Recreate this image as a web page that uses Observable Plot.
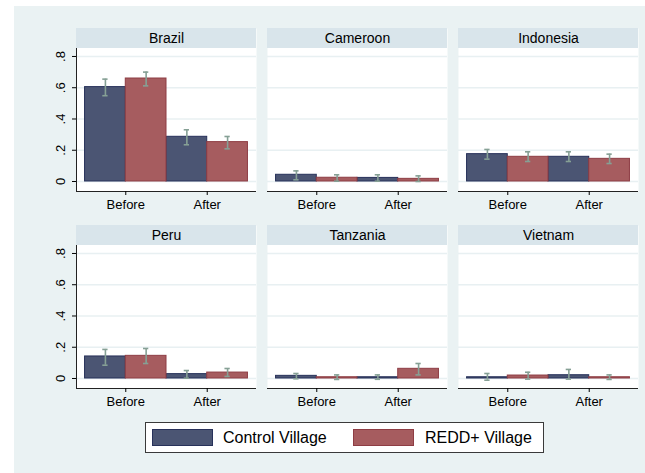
<!DOCTYPE html>
<html>
<head>
<meta charset="utf-8">
<script src="https://cdn.jsdelivr.net/npm/d3@7"></script>
<script src="https://cdn.jsdelivr.net/npm/@observablehq/plot@0.6"></script>
<style>
  html, body { margin: 0; padding: 0; background: #ffffff; }
  #graph { position: relative; width: 645px; height: 473px; overflow: hidden;
           font-family: "Liberation Sans", Arial, Helvetica, sans-serif; }
  #region { position: absolute; left: 14px; top: 6px; width: 631px; height: 467px; background: #eaf2f3; }
  #chart { position: absolute; left: 0; top: 0; }
  #legend { position: absolute; left: 145px; top: 422px; width: 397px; height: 29px;
            border: 1px solid #3a3a3a; background: #ffffff; }
  .swatch { position: absolute; top: 6px; width: 59px; height: 15px; border: 1px solid; }
  .label { position: absolute; top: 0; line-height: 29px; font-size: 16px; color: #000; white-space: nowrap; }
</style>
</head>
<body>
<div id="graph">
  <div id="region"></div>
  <div id="chart"></div>
  <div id="legend"></div>
</div>
<script>
// Share of households, by country, period and village type (mean with 95% CI)
const countries = ["Brazil", "Cameroon", "Indonesia", "Peru", "Tanzania", "Vietnam"];
const periods = ["Before", "After"];
const groups = ["Control Village", "REDD+ Village"];

// [before, after] for each country, in the order of `countries`
const controlMean = [[0.604, 0.286], [0.043, 0.023], [0.175, 0.158], [0.141, 0.028], [0.017, 0.008], [0.008, 0.021]];
const controlLow  = [[0.549, 0.235], [0.011, 0.002], [0.143, 0.128], [0.085, 0.002], [-0.002, -0.005], [-0.011, -0.004]];
const controlHigh = [[0.655, 0.331], [0.068, 0.043], [0.205, 0.190], [0.186, 0.051], [0.032, 0.023], [0.032, 0.058]];

const reddMean = [[0.659, 0.252], [0.024, 0.017], [0.158, 0.145], [0.145, 0.038], [0.008, 0.062], [0.019, 0.008]];
const reddLow  = [[0.612, 0.209], [0.002, 0.000], [0.128, 0.115], [0.096, 0.013], [-0.006, 0.023], [-0.004, -0.006]];
const reddHigh = [[0.700, 0.288], [0.043, 0.036], [0.190, 0.175], [0.192, 0.064], [0.023, 0.096], [0.040, 0.023]];

const yTicks = [0, 0.2, 0.4, 0.6, 0.8];

// styling
const fills   = ["#4b5573", "#a65c5f"];
const strokes = ["#27315a", "#8e3d44"];
const ciColor = "#86a095";
const gridColor = "#e8f0f2";
const stripColor = "#d9e5eb";
const font = '"Liberation Sans", Arial, Helvetica, sans-serif';

const series = [
  {mean: controlMean, lo: controlLow, hi: controlHigh},
  {mean: reddMean, lo: reddLow, hi: reddHigh}
];

// one record per bar: slot 0..3 = (period, group) position along x
const rows = [];
countries.forEach((country, i) => {
  periods.forEach((period, j) => {
    groups.forEach((group, k) => {
      rows.push({
        country, period, group, k,
        col: i % 3, row: Math.floor(i / 3),
        slot: j * groups.length + k,
        mean: series[k].mean[i][j],
        lo: series[k].lo[i][j],
        hi: series[k].hi[i][j]
      });
    });
  });
});

const xMin = -0.21, xMax = 4.21;           // bar area with side padding
const yMin = -0.064, yTop = 0.851;         // plot region
const yMax = 0.979;                        // top of the title strip
const cap = 0.065;                         // half-width of CI caps

const panel = {
  fx: (d, i) => i % 3,
  fy: (d, i) => Math.floor(i / 3)
};

const chart = Plot.plot({
  width: 645,
  height: 410,
  marginTop: 28,
  marginBottom: 22,
  marginLeft: 76,
  marginRight: 7,
  style: {background: "transparent", fontFamily: font, overflow: "visible"},
  fx: {axis: null, domain: [0, 1, 2], paddingInner: 11 / 191, paddingOuter: 0, round: false},
  fy: {axis: null, domain: [0, 1], paddingInner: 34 / 197, paddingOuter: 0, round: false},
  x: {domain: [xMin, xMax]},
  y: {domain: [yMin, yMax]},
  marks: [
    Plot.frame({fill: "white"}),
    Plot.ruleY(yTicks, {stroke: gridColor, strokeWidth: 1.6}),
    // title strips
    Plot.rect(countries, {...panel, x1: xMin, x2: xMax, y1: yTop, y2: yMax, fill: stripColor}),
    Plot.text(countries, {...panel, x: (xMin + xMax) / 2, y: (yTop + yMax) / 2, text: d => d,
      fontSize: 14, fill: "black"}),
    // bars
    ...groups.map((g, k) => Plot.rect(rows.filter(d => d.k === k), {
      fx: "col", fy: "row",
      x1: "slot", x2: d => d.slot + 1, y1: 0, y2: "mean",
      fill: fills[k], stroke: strokes[k], strokeWidth: 1
    })),
    // confidence intervals
    Plot.ruleX(rows, {fx: "col", fy: "row", x: d => d.slot + 0.5, y1: "lo", y2: "hi",
      stroke: ciColor, strokeWidth: 1.6}),
    Plot.ruleY(rows, {fx: "col", fy: "row", y: "lo", x1: d => d.slot + 0.5 - cap, x2: d => d.slot + 0.5 + cap,
      stroke: ciColor, strokeWidth: 1.6}),
    Plot.ruleY(rows, {fx: "col", fy: "row", y: "hi", x1: d => d.slot + 0.5 - cap, x2: d => d.slot + 0.5 + cap,
      stroke: ciColor, strokeWidth: 1.6}),
    // axis lines
    Plot.ruleY([yMin], {stroke: "#222", strokeWidth: 1}),
    Plot.ruleX([0, 1], {fx: () => 0, fy: d => d, x: xMin, y1: yMin, y2: yTop, stroke: "#222", strokeWidth: 1}),
    Plot.axisX({
      ticks: periods.map((p, j) => j * groups.length + groups.length / 2),
      tickFormat: v => periods[Math.round((v - 1) / 2)],
      tickSize: 4, tickPadding: 4, fontSize: 13, color: "black",
      label: null, facetAnchor: null
    }),
    Plot.axisY({
      ticks: yTicks,
      tickFormat: v => v === 0 ? "0" : String(v).replace(/^0/, ""),
      tickRotate: -90, tickSize: 4, tickPadding: 8, fontSize: 13, color: "black",
      label: null, facetAnchor: "left"
    })
  ]
});
document.getElementById("chart").appendChild(chart);

// legend
const legend = document.getElementById("legend");
const swatchLeft = [6, 207], labelLeft = [77, 279];
groups.forEach((g, k) => {
  const s = document.createElement("div");
  s.className = "swatch";
  s.style.left = swatchLeft[k] + "px";
  s.style.background = fills[k];
  s.style.borderColor = strokes[k];
  legend.appendChild(s);
  const t = document.createElement("div");
  t.className = "label";
  t.style.left = labelLeft[k] + "px";
  t.textContent = g;
  legend.appendChild(t);
});
</script>
</body>
</html>
